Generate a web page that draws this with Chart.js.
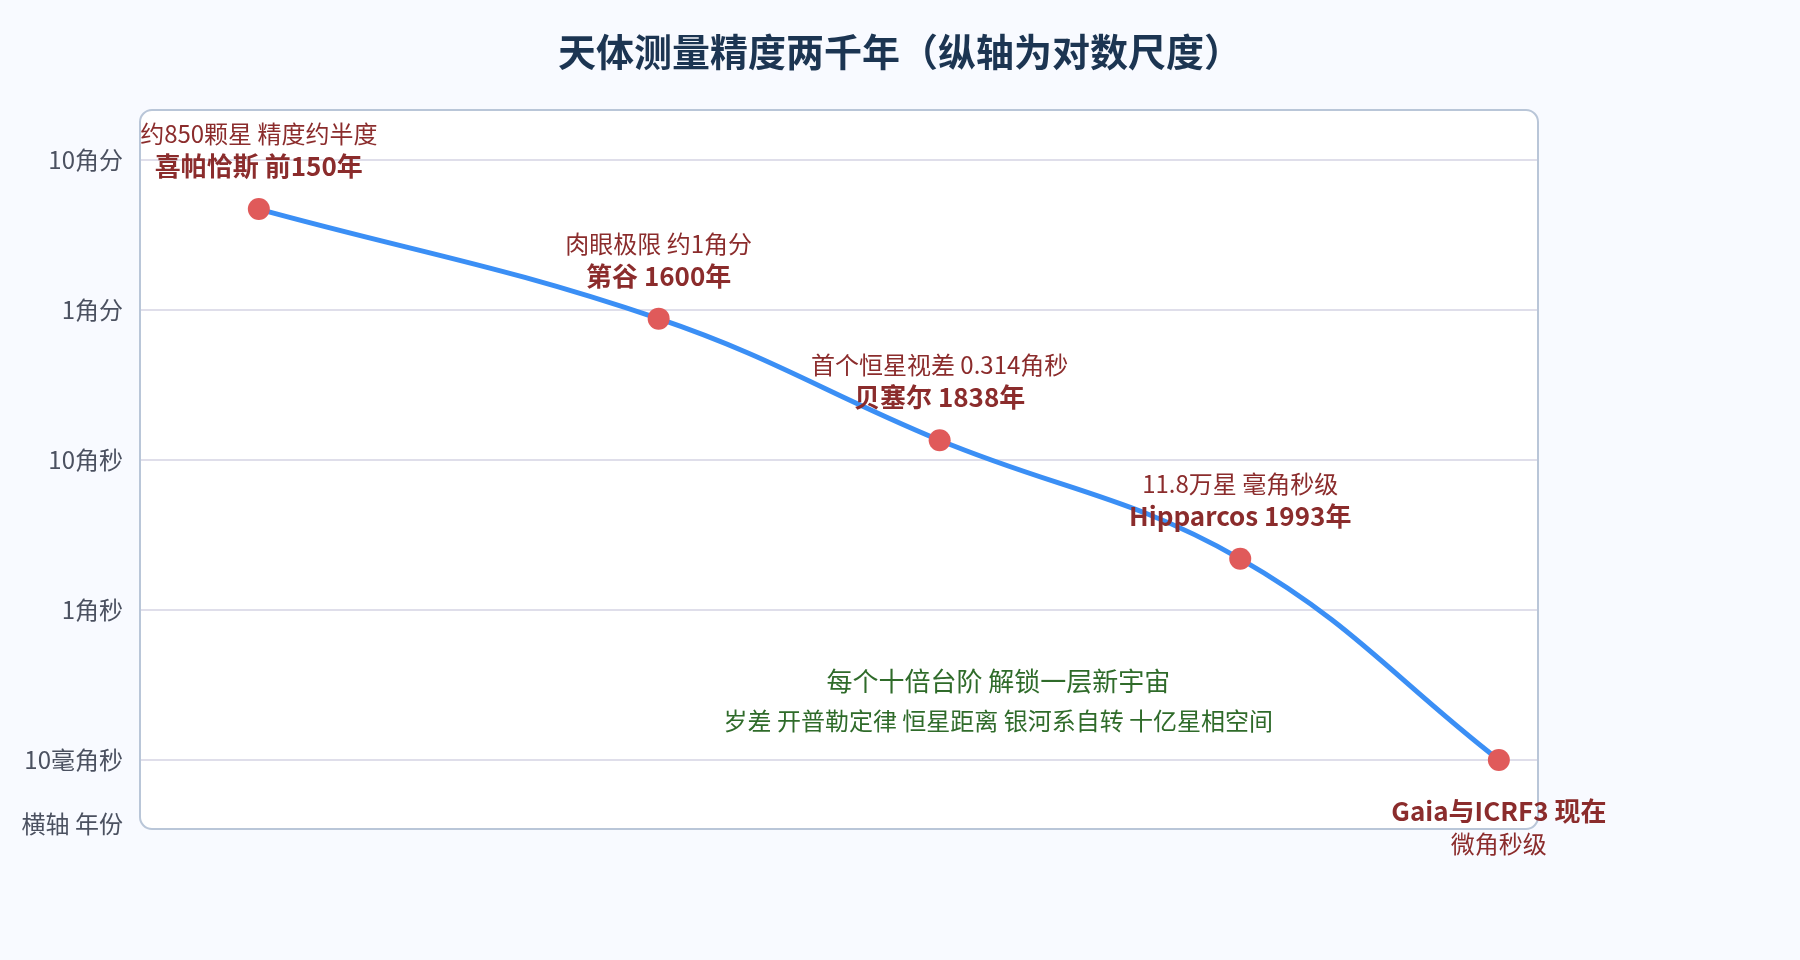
<!DOCTYPE html>
<html>
<head>
<meta charset="utf-8">
<script src="https://cdn.jsdelivr.net/npm/chart.js@4.4.1/dist/chart.umd.min.js"></script>
<style>
html, body { margin: 0; padding: 0; background: #f8faff; }
#wrap { width: 1800px; height: 960px; }
</style>
</head>
<body>
<div id="wrap"><canvas id="astroChart" width="1800" height="960"></canvas></div>
<script>
// y levels: 0 = 10毫角秒 ... 4 = 10角分 (one step per gridline)
var levelLabels = ['10毫角秒', '1角秒', '10角秒', '1角分', '10角分'];
var epochPos = [8.5, 37.1, 57.2, 78.7, 97.2];
var precisionLevel = [3.67, 2.94, 2.13, 1.34, 0];
var milestoneNames = ['喜帕恰斯 前150年', '第谷 1600年', '贝塞尔 1838年', 'Hipparcos 1993年', 'Gaia与ICRF3 现在'];
var milestoneNotes = ['约850颗星 精度约半度', '肉眼极限 约1角分', '首个恒星视差 0.314角秒', '11.8万星 毫角秒级', '微角秒级'];
var chartTitle = '天体测量精度两千年（纵轴为对数尺度）';
var unlockTitle = '每个十倍台阶 解锁一层新宇宙';
var unlockList = '岁差 开普勒定律 恒星距离 银河系自转 十亿星相空间';
var xAxisNote = '横轴 年份';

var FONT = '"Noto Sans CJK SC", "Noto Sans", sans-serif';

var framePlugin = {
    id: 'frame',
    beforeDraw: function (chart) {
        var ctx = chart.ctx, a = chart.chartArea;
        ctx.save();
        ctx.fillStyle = '#f8faff';
        ctx.fillRect(0, 0, chart.width, chart.height);
        ctx.beginPath();
        ctx.roundRect(a.left, a.top, a.right - a.left, a.bottom - a.top, 12);
        ctx.fillStyle = '#ffffff';
        ctx.fill();
        // title, centred on the whole canvas
        ctx.fillStyle = '#1c3552';
        ctx.font = 'bold 38px ' + FONT;
        ctx.textAlign = 'center';
        ctx.textBaseline = 'middle';
        ctx.fillText(chartTitle, chart.width / 2, 52);
        ctx.restore();
    },
    beforeDatasetsDraw: function (chart) {
        var ctx = chart.ctx, a = chart.chartArea;
        ctx.save();
        ctx.beginPath();
        ctx.roundRect(a.left, a.top, a.right - a.left, a.bottom - a.top, 12);
        ctx.lineWidth = 2;
        ctx.strokeStyle = '#b9c6d8';
        ctx.stroke();
        ctx.restore();
    },
    afterDraw: function (chart) {
        var ctx = chart.ctx;
        var xs = chart.scales.x, ys = chart.scales.y;
        ctx.save();
        ctx.textAlign = 'center';
        ctx.textBaseline = 'middle';
        ctx.fillStyle = '#8b2c2c';
        for (var i = 0; i < epochPos.length; i++) {
            var px = xs.getPixelForValue(epochPos[i]);
            var py = ys.getPixelForValue(precisionLevel[i]);
            var last = i === epochPos.length - 1;
            ctx.font = 'bold 26px ' + FONT;
            ctx.fillText(milestoneNames[i], px, last ? py + 51 : py - 43);
            ctx.font = '24px ' + FONT;
            ctx.fillText(milestoneNotes[i], px, last ? py + 84 : py - 75);
        }
        // green message in the lower middle
        ctx.fillStyle = '#2f6b2a';
        var gx = xs.getPixelForValue(61.4);
        ctx.font = '26px ' + FONT;
        ctx.fillText(unlockTitle, gx, ys.getPixelForValue(0.527));
        ctx.font = '24px ' + FONT;
        ctx.fillText(unlockList, gx, ys.getPixelForValue(0.26));
        // axis note at bottom left
        ctx.textAlign = 'right';
        ctx.fillStyle = '#4b5160';
        ctx.fillText(xAxisNote, chart.chartArea.left - 17, chart.chartArea.bottom - 5);
        ctx.restore();
    }
};

var ctx = document.getElementById('astroChart').getContext('2d');
var chart = new Chart(ctx, {
    type: 'line',
    data: {
        datasets: [{
            data: epochPos.map(function (x, i) { return { x: x, y: precisionLevel[i] }; }),
            borderColor: '#3b8ff5',
            borderWidth: 5,
            tension: 0.4,
            pointRadius: 11,
            pointHoverRadius: 11,
            pointBackgroundColor: '#e05a5a',
            pointBorderWidth: 0,
            fill: false
        }]
    },
    options: {
        responsive: false,
        animation: false,
        devicePixelRatio: 1,
        layout: { padding: { left: 0, right: 262, top: 110, bottom: 131 } },
        plugins: {
            legend: { display: false },
            tooltip: { enabled: false },
            title: { display: false }
        },
        scales: {
            x: {
                type: 'linear',
                min: 0,
                max: 100,
                display: false
            },
            y: {
                type: 'linear',
                min: -0.46,
                max: 4.33,
                afterFit: function (scale) { scale.width = 140; },
                border: { display: false },
                grid: { color: '#dfdeea', lineWidth: 2, drawTicks: false },
                ticks: {
                    stepSize: 1,
                    includeBounds: false,
                    padding: 17,
                    color: '#4b5160',
                    font: { family: FONT, size: 24 },
                    callback: function (v) { return levelLabels[v]; }
                }
            }
        }
    },
    plugins: [framePlugin]
});
</script>
</body>
</html>
